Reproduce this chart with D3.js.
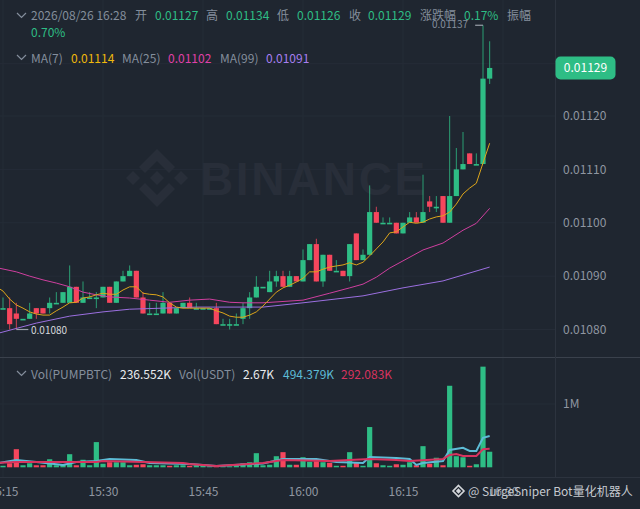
<!DOCTYPE html>
<html>
<head>
<meta charset="utf-8">
<script src="https://cdn.jsdelivr.net/npm/d3@7"></script>
<style>
html, body { margin: 0; padding: 0; background: #1f2630; overflow: hidden; }
text { font-family: "Noto Sans CJK SC", "Noto Sans", sans-serif; }
</style>
</head>
<body>
<div id="chart"></div>
<script>
"use strict";

// prices are in ticks of 0.00001, minutes are counted from 15:15
var open = [1084,1084,1083,1082,1082,1084,1084,1084,1085,1085,1085,1088,1085,1086,1086,1086,1088,1085,1089,1090,1091,1086,1083,1083,1083,1085,1083,1084,1085,1084,1084,1084,1084,1081,1081,1081,1082,1084,1086,1088,1087,1089,1090,1088,1090,1089,1093,1096,1089,1094,1091,1091,1090,1098,1093,1094,1102,1100,1100,1100,1098,1100,1101,1100,1104,1103,1105,1100,1105,1110,1113,1111,1111,1127];
var close = [1084,1081,1082,1082,1083,1083,1083,1085,1085,1087,1088,1085,1086,1086,1086,1088,1085,1089,1090,1091,1086,1083,1083,1083,1085,1083,1084,1085,1084,1084,1084,1084,1081,1081,1081,1081,1084,1086,1088,1088,1089,1090,1088,1090,1089,1093,1096,1089,1094,1091,1091,1090,1096,1093,1094,1102,1100,1100,1100,1098,1100,1101,1100,1102,1103,1103,1100,1105,1110,1111,1111,1111,1127,1129];
var high = [1086,1086,1085,1082,1085,1084,1084,1086,1087,1087,1092,1088,1089,1087,1087,1088,1088,1089,1091,1092,1091,1087,1085,1085,1087,1085,1084,1085,1086,1085,1084,1084,1085,1082,1082,1083,1085,1087,1090,1088,1091,1091,1091,1091,1090,1095,1096,1097,1094,1094,1093,1091,1096,1098,1095,1107,1103,1101,1101,1100,1100,1102,1102,1109,1105,1105,1105,1120,1114,1117,1113,1113,1137,1134];
var low = [1084,1080,1080,1082,1082,1082,1083,1083,1085,1085,1085,1085,1085,1086,1084,1086,1085,1085,1089,1090,1086,1083,1083,1083,1083,1083,1083,1084,1084,1084,1084,1084,1081,1081,1080,1081,1081,1082,1086,1088,1087,1088,1088,1088,1089,1089,1093,1089,1088,1091,1091,1090,1089,1093,1093,1094,1100,1100,1100,1098,1098,1100,1100,1100,1102,1102,1100,1100,1105,1110,1111,1111,1111,1126];

// the averages start one minute before the first whole candle, off the left edge
var ma7 = [1088,1087.2,1085.7,1084.6,1084,1083.3,1082.9,1082.7,1082.7,1083.5,1084.2,1085,1085.1,1085.9,1086.1,1086.5,1086.8,1086.6,1086.6,1087.4,1088,1088,1086.8,1086.6,1086.5,1086.1,1085,1084.2,1084,1084,1084,1084,1084,1083.5,1083.1,1082.5,1082.3,1082.3,1082.7,1083.3,1084.4,1085.7,1087,1087.8,1088.3,1088.9,1089.6,1090.8,1090.8,1091.3,1091.7,1091.9,1092.1,1092.5,1092.1,1092.6,1093.8,1095.1,1096.4,1098.1,1098.3,1099.2,1100.1,1099.9,1100.1,1100.7,1101.1,1101.3,1102,1103.5,1105.4,1106.5,1107.4,1111.2,1114.9];
var ma25Min = [-1,2,4,6,8,10,12,14,16,19,22,25,28,31,34,36,39,45,49,52,54,56,58,63,66,69,71,73];
var ma25 = [1091.6,1090.8,1090,1089.3,1088.7,1088,1087,1086.5,1086.1,1085.9,1085.5,1085.1,1085.5,1085.7,1085.1,1085,1085,1085.5,1086.8,1087.8,1088.5,1089.8,1091.5,1094.9,1096.2,1098.6,1099.9,1102.7];
var ma99Min = [-1,5,10,15,19,29,39,45,54,60,66,73];
var ma99 = [1079.2,1081.2,1082.5,1083.3,1083.8,1084.2,1084.2,1085,1086.3,1087.8,1089.1,1091.7];

// volume in thousands
var volume = [24,64,286,32,64,32,32,127,32,48,207,32,119,32,398,56,80,80,80,32,40,48,32,32,32,24,32,32,24,32,24,16,16,16,16,24,64,80,223,32,40,175,239,40,40,159,87,95,80,72,24,24,239,80,24,636,64,32,24,48,40,80,32,334,56,151,32,1288,175,159,24,48,1590,246];
var volMaMin = [-1,2,5,9,11,14,16,20,22,28,32,39,42,47,50,54,55,59,61,62,63,66,67,69,70,71,72,73];
var volMa = [60,116,84,37,84,100,132,116,68,52,21,60,132,132,84,68,164,148,132,37,68,100,275,307,259,259,466,494];
var usdMaMin = [-1,2,14,15,21,27,28,32,39,42,49,55,59,61,66,67,68,69,71,72,73];
var usdMa = [68,84,84,100,84,68,52,21,68,116,100,132,116,100,132,195,211,180,180,285,292];

var priceTicks = [1120,1110,1100,1090,1080];
var volTicks = [1000];
var timeMins = [0,15,30,45,60,75];
var timeLabels = ["15:15","15:30","15:45","16:00","16:15","16:30"];

var width = 640, height = 509;
var up = "#2ebd85", down = "#f6465d";
var gridColor = "#252c37", borderColor = "#2c333e", axisText = "#8f96a1", legendText = "#848e9c";

var svg = d3.select("#chart").append("svg")
	.attr("width", width)
	.attr("height", height)
	.style("display", "block");

var x = d3.scaleLinear().domain([0, 75]).range([3, 503]);
var y = d3.scaleLinear().domain([1080, 1120]).range([329.5, 116]);
var yVol = d3.scaleLinear().domain([0, 1000]).range([467.3, 404]);

//
// Grid
//
var grid = svg.append("g");
grid.selectAll(".gx").data(timeMins).enter().append("line")
	.attr("x1", function(d) { return x(d); }).attr("x2", function(d) { return x(d); })
	.attr("y1", 0).attr("y2", 477)
	.attr("stroke", gridColor);
grid.selectAll(".gy").data(priceTicks.concat([1129.8])).enter().append("line")
	.attr("x1", 0).attr("x2", 555)
	.attr("y1", function(d) { return y(d); }).attr("y2", function(d) { return y(d); })
	.attr("stroke", gridColor);
grid.append("line").attr("x1", 0).attr("x2", 555).attr("y1", yVol(1000)).attr("y2", yVol(1000)).attr("stroke", gridColor);
grid.append("line").attr("x1", 0).attr("x2", 640).attr("y1", 357.5).attr("y2", 357.5).attr("stroke", "#3a414c");
grid.append("line").attr("x1", 0).attr("x2", 640).attr("y1", 477.5).attr("y2", 477.5).attr("stroke", borderColor);
grid.append("line").attr("x1", 555.5).attr("x2", 555.5).attr("y1", 0).attr("y2", 477).attr("stroke", borderColor);

//
// Watermark
//
var wm = svg.append("g").attr("fill", "#282e39");
var logo = wm.append("g").attr("transform", "translate(157,178)");
logo.append("path").attr("d", "M0,-29L18,-11L12,-5L0,-17L-12,-5L-18,-11Z");
logo.append("path").attr("d", "M0,29L18,11L12,5L0,17L-12,5L-18,11Z");
logo.append("path").attr("d", "M0,-7L7,0L0,7L-7,0Z");
logo.append("path").attr("d", "M-24,-7L-17,0L-24,7L-31,0Z");
logo.append("path").attr("d", "M24,-7L31,0L24,7L17,0Z");
wm.append("text").attr("x", 200).attr("y", 195)
	.style("font-family", "'Liberation Sans'")
	.style("font-weight", 700).style("font-size", "46px").style("letter-spacing", "2.6px")
	.text("BINANCE");

//
// Candles
//
var minutes = d3.range(open.length);
var candles = svg.append("g");
candles.selectAll(".wick").data(minutes).enter().append("line")
	.attr("x1", function(i) { return x(i); }).attr("x2", function(i) { return x(i); })
	.attr("y1", function(i) { return y(high[i]); }).attr("y2", function(i) { return y(low[i]); })
	.attr("stroke-opacity", 0.8)
	.attr("stroke", function(i) { return close[i] >= open[i] ? up : down; });
candles.selectAll(".body").data(minutes).enter().append("rect")
	.attr("x", function(i) { return x(i) - 2.6; })
	.attr("width", 5.2)
	.attr("y", function(i) { return y(Math.max(open[i], close[i])); })
	.attr("height", function(i) { return Math.max(1.6, Math.abs(y(open[i]) - y(close[i]))); })
	.attr("fill", function(i) { return close[i] >= open[i] ? up : down; });

//
// Moving averages
//
function drawLine(mins, vals, yScale, color, w) {
	var line = d3.line()
		.x(function(d) { return x(d); })
		.y(function(d, i) { return yScale(vals[i]); });
	svg.append("path").attr("d", line(mins)).attr("fill", "none").attr("stroke", color).attr("stroke-width", w);
}
drawLine(ma99Min, ma99, y, "#9b6fe0", 1);
drawLine(ma25Min, ma25, y, "#cf3f9f", 1);
drawLine(d3.range(-1, open.length), ma7, y, "#dca51a", 1);

//
// Volume
//
svg.append("g").selectAll("rect").data(minutes).enter().append("rect")
	.attr("x", function(i) { return x(i) - 2.6; })
	.attr("width", 5.2)
	.attr("y", function(i) { return yVol(volume[i]); })
	.attr("height", function(i) { return yVol(0) - yVol(volume[i]); })
	.attr("fill", function(i) { return close[i] >= open[i] ? up : down; });
drawLine(volMaMin, volMa, yVol, "#5dbcd6", 2);
drawLine(usdMaMin, usdMa, yVol, "#d8335f", 2);

//
// Axes
//
var yAxis = d3.axisRight(y).tickValues(priceTicks).tickSize(0).tickPadding(0)
	.tickFormat(function(d) { return d3.format(".5f")(d / 100000); });
svg.append("g").attr("transform", "translate(563,0)").call(yAxis)
	.call(function(g) { g.select(".domain").remove(); })
	.selectAll("text").attr("fill", axisText).style("font-size", "12px").style("font-family", "'Noto Sans CJK SC'");

var volAxis = d3.axisRight(yVol).tickValues(volTicks).tickSize(0).tickPadding(0)
	.tickFormat(function() { return "1M"; });
svg.append("g").attr("transform", "translate(563,0)").call(volAxis)
	.call(function(g) { g.select(".domain").remove(); })
	.selectAll("text").attr("fill", axisText).style("font-size", "12px").style("font-family", "'Noto Sans CJK SC'");

var xAxis = d3.axisBottom(x).tickValues(timeMins).tickSize(0).tickPadding(0)
	.tickFormat(function(d, i) { return timeLabels[i]; });
svg.append("g").attr("transform", "translate(0,487)").call(xAxis)
	.call(function(g) { g.select(".domain").remove(); })
	.selectAll("text").attr("fill", axisText).style("font-size", "12px").style("font-family", "'Noto Sans CJK SC'");

// last price badge
svg.append("rect").attr("x", 555.5).attr("y", y(1129) - 11.5).attr("width", 60).attr("height", 23).attr("rx", 5).attr("fill", up);
svg.append("text").attr("x", 585.5).attr("y", y(1129) + 4.3).attr("text-anchor", "middle").attr("fill", "#fff").style("font-size", "12px").text("0.01129");

// high / low markers
svg.append("line").attr("x1", x(70.9) - 0.5).attr("x2", x(72)).attr("y1", y(1137)).attr("y2", y(1137)).attr("stroke", "#9aa0aa").attr("stroke-width", 1.2);
svg.append("text").attr("x", 432).attr("y", y(1137) + 3).attr("fill", "#848e9c").style("font-size", "10px").text("0.01137");
svg.append("line").attr("x1", x(2)).attr("x2", x(3.8)).attr("y1", y(1080)).attr("y2", y(1080)).attr("stroke", "#9aa0aa").attr("stroke-width", 1.2);
svg.append("text").attr("x", 31).attr("y", y(1080) + 4).attr("fill", "#d5d8dc").style("font-size", "10px").text("0.01080");

//
// Legends
//
function legend(items, yPos) {
	items.forEach(function(it) {
		svg.append("text").attr("x", it[0]).attr("y", yPos).attr("fill", it[2] || legendText)
			.style("font-size", "12px").text(it[1]);
	});
}
function chevron(yPos) {
	svg.append("path").attr("d", "M17," + (yPos - 2) + "l4.5,4.5l4.5,-4.5")
		.attr("fill", "none").attr("stroke", "#848e9c").attr("stroke-width", 1.2);
}
chevron(15); chevron(57); chevron(373);
legend([[31,"2026/08/26 16:28"],[135,"开"],[155,"0.01127",up],[206,"高"],[226,"0.01134",up],[277,"低"],[297,"0.01126",up],[349,"收"],[368,"0.01129",up],[420,"涨跌幅"],[464,"0.17%",up],[507,"振幅"]], 20);
legend([[31,"0.70%",up]], 37);
legend([[31,"MA(7)"],[71,"0.01114","#f0b90b"],[122,"MA(25)"],[168,"0.01102","#e040a8"],[220,"MA(99)"],[266,"0.01091","#a77ff0"]], 63);
legend([[31,"Vol(PUMPBTC)"],[120,"236.552K","#eaecef"],[179,"Vol(USDT)"],[243,"2.67K","#eaecef"],[283,"494.379K","#5dbcd6"],[341,"292.083K","#d8335f"]], 379);

// share tag
var tag = svg.append("g").attr("transform", "translate(458.5,491)").attr("fill", "none").attr("stroke", "#d5d8dc").attr("stroke-width", 1.6);
tag.append("path").attr("d", "M0,-5.5L5.5,0L0,5.5L-5.5,0Z");
tag.append("path").attr("d", "M0,-1.5L1.5,0L0,1.5L-1.5,0Z").attr("fill", "#d5d8dc");
svg.append("text").attr("x", 468).attr("y", 496).attr("fill", "#c5c9cf").style("font-size", "12px").text("@ SurgeSniper Bot量化机器人");
</script>
</body>
</html>
